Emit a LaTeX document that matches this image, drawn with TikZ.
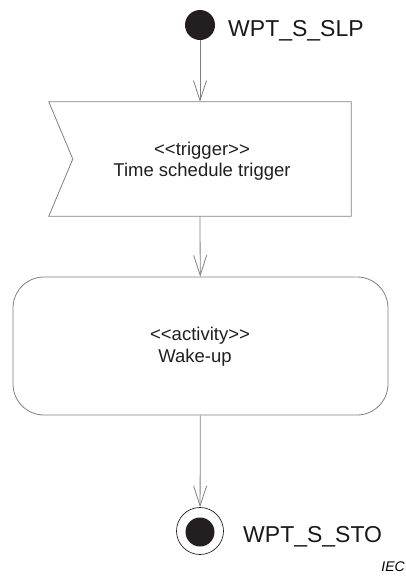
\documentclass[tikz,border=0pt]{standalone}
\usepackage{fontspec}
\setmainfont{Liberation Sans}
\usetikzlibrary{arrows.meta,calc}
\definecolor{edgegray}{HTML}{808080}
\definecolor{dotblack}{HTML}{231F20}
\tikzset{
  startdot/.style={circle,fill=dotblack,draw=none,minimum size=30pt,inner sep=0pt},
  finalring/.style={circle,draw=dotblack,line width=0.7pt,minimum size=47pt,inner sep=0pt},
  finaldot/.style={circle,fill=dotblack,draw=none,minimum size=29pt,inner sep=0pt},
  shapeline/.style={draw=edgegray,line width=0.8pt},
  flow/.style={draw=edgegray,line width=0.8pt,-{Straight Barb[length=20pt,width=13pt,line width=0.8pt]}},
  statelabel/.style={anchor=base west,inner sep=0pt,font=\fontsize{23}{27}\selectfont,text=black!90},
  boxtext/.style={anchor=base,inner sep=0pt,font=\fontsize{18.5}{22}\selectfont,text=black!88}
}
\begin{document}
\begin{tikzpicture}[x=1pt,y=-1pt]
\useasboundingbox (0,0) rectangle (406,576);

% initial state
\node[startdot] (init) at (200,25) {};
\node[statelabel] (initlbl) at (228,36) {WPT\_S\_SLP};

% trigger (accept event signal shape)
\node[minimum width=302pt,minimum height=114pt,inner sep=0pt] (trig) at (200,159) {};
\draw[shapeline] (trig.north west) -- (trig.north east) -- (trig.south east)
  -- (trig.south west) -- ($(trig.west)+(24,0)$) -- cycle;
\node[boxtext] (trigst) at (202,155) {{<}{<}trigger{>}{>}};
\node[boxtext] (trigname) at (202,176) {Time schedule trigger};

% activity
\node[shapeline,rounded corners=31pt,minimum width=375pt,minimum height=138pt,inner sep=0pt] (act) at (200.5,346) {};
\node[boxtext] (actst) at (200,340) {{<}{<}activity{>}{>}};
\node[boxtext] (actname) at (195,362.5) {Wake-up};

% final state
\node[finalring] (final) at (200,531) {};
\node[finaldot] (finaldot) at (200,532) {};
\node[statelabel] (finallbl) at (243,542.5) {WPT\_S\_STO};

% flows
\draw[flow] (init) -- (trig.north);
\draw[flow] (trig.south) -- (act);
\draw[flow] (act) -- (final);

% source mark
\node[anchor=base east,inner sep=0pt,font=\fontsize{14}{16}\selectfont\itshape] (iec) at (405,571.5) {IEC};
\end{tikzpicture}
\end{document}
